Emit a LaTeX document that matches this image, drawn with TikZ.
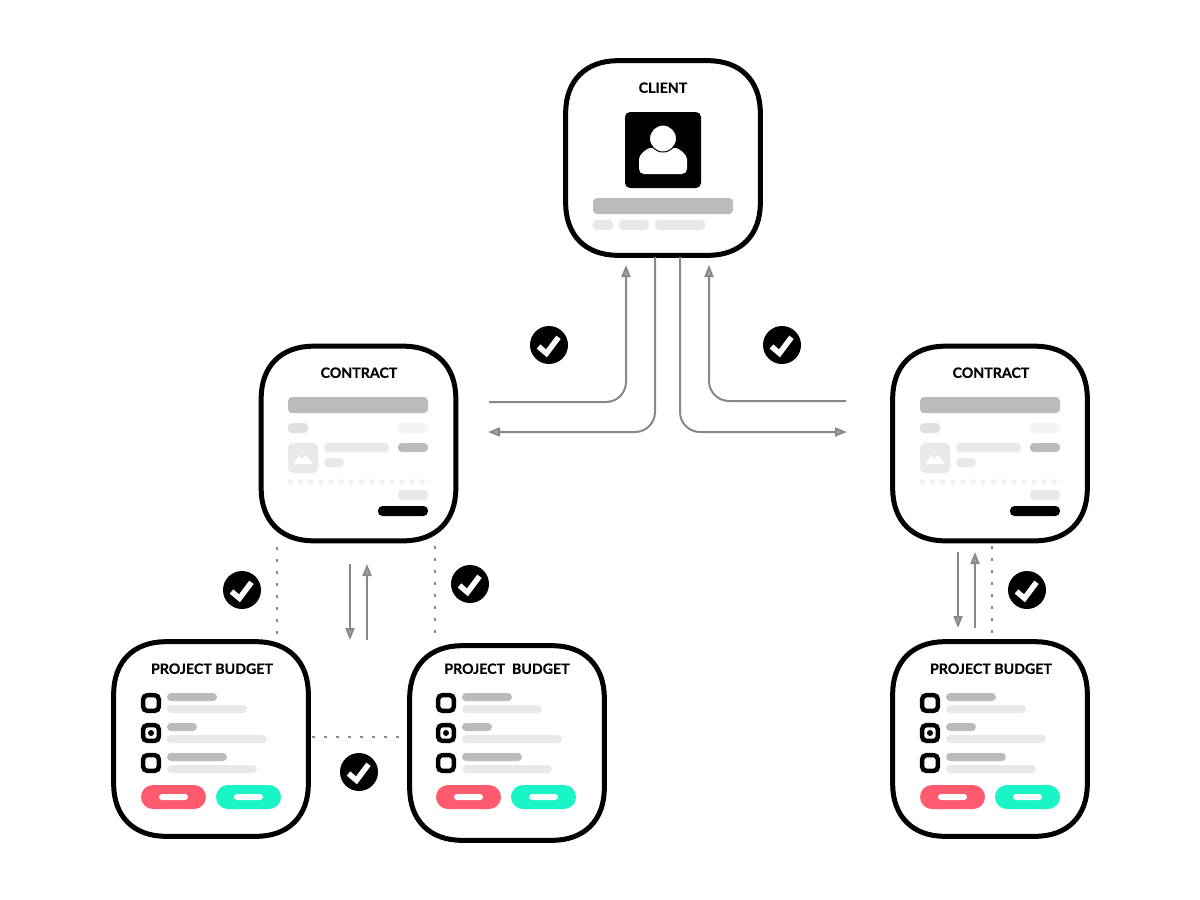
\documentclass[tikz,border=0pt]{standalone}
\usepackage{fontspec}
\setmainfont{Lato}[BoldFeatures={FakeBold=0.35}]
\usetikzlibrary{arrows.meta,calc}
\definecolor{barA}{HTML}{BBBBBB}
\definecolor{barB}{HTML}{E9E9E9}
\definecolor{barC}{HTML}{F4F4F4}
\definecolor{lineG}{HTML}{888888}
\definecolor{redB}{HTML}{FF5A6E}
\definecolor{greenB}{HTML}{1AF5C8}
\tikzset{
  cardnode/.style={rectangle,minimum width=194pt,minimum height=194pt,inner sep=0pt,outer sep=2pt},
  cardline/.style={draw=black,fill=white,line width=5pt},
  cardtitle/.style={font=\fontsize{14.2}{16}\selectfont\bfseries,inner sep=0pt,text=black},
  conn/.style={draw=lineG,line width=2pt,rounded corners=20pt},
  tipped/.style={-{Triangle[length=12pt,width=9pt,fill=lineG!75]}},
  dots/.style={draw=lineG,line width=2pt,dash pattern=on 3pt off 9pt},
  straight/.style={draw=lineG,line width=2pt},
  ticknode/.style={circle,fill=black,minimum size=38pt,inner sep=0pt},
  tickline/.style={draw=white,line width=5.5pt,miter limit=10},
}
% rounded bar: x1 y1 x2 y2 colour radius
\newcommand{\pbar}[6]{\fill[#5,rounded corners=#6pt] (#1,#2) rectangle (#3,#4);}
% card: name, centre x, centre y
\newcommand{\cardbox}[3]{%
  \node[cardnode] (#1) at (#2,#3) {};
  \begin{scope}[shift={(#1.center)}]
    \path[cardline] (-97.3,-45.3) .. controls (-97.3,-77.3) and (-77.3,-97.3) .. (-45.3,-97.3)
      -- (45.3,-97.3) .. controls (77.3,-97.3) and (97.3,-77.3) .. (97.3,-45.3)
      -- (97.3,45.3) .. controls (97.3,77.3) and (77.3,97.3) .. (45.3,97.3)
      -- (-45.3,97.3) .. controls (-77.3,97.3) and (-97.3,77.3) .. (-97.3,45.3) -- cycle;
  \end{scope}}
\newcommand{\ticknode}[3]{%
  \node[ticknode] (#1) at (#2,#3) {};
  \begin{scope}[shift={(#1.center)}]
    \draw[tickline] (-10.5,1.5) -- (-2.5,8.3) -- (9.5,-7.7);
  \end{scope}}
\newcommand{\contractbody}{%
  \pbar{288}{397}{428}{413}{barA}{4}
  \pbar{288}{423}{308}{433}{barB!80!barA}{4}
  \pbar{398}{423}{428}{433}{barC}{4}
  \pbar{288}{443}{318}{473}{barB}{5}
  \fill[white] (293,464) -- (299,456) -- (302,459) -- (306,455) -- (313,464) -- cycle;
  \fill[white] (302,453) circle (1.2);
  \pbar{324}{443}{389}{452}{barB}{4}
  \pbar{324}{458}{344}{467}{barB}{4}
  \pbar{398}{443}{428}{452}{barA}{4}
  \foreach \i in {0,...,13}{\fill[barC!70!barB] (290.5+\i*10.15,482) circle (2.7);}
  \pbar{398}{490}{428}{500}{barB}{4}
  \pbar{378}{506}{428}{516}{black}{4.5}
}
\newcommand{\budgetbody}{%
  \foreach \yy in {703,733,763}{\draw[line width=4.5pt,rounded corners=4pt] (143.2,\yy-7.8) rectangle (158.8,\yy+7.8);}
  \fill[black] (151,733) circle (3);
  \pbar{167}{693}{217}{701}{barA}{4}
  \pbar{167}{705}{247}{713}{barB}{4}
  \pbar{167}{723}{197}{731}{barA}{4}
  \pbar{167}{735}{267}{743}{barB}{4}
  \pbar{167}{753}{227}{761}{barA}{4}
  \pbar{167}{765}{257}{773}{barB}{4}
  \pbar{141}{785}{206}{809}{redB}{12}
  \pbar{216}{785}{281}{809}{greenB}{12}
  \pbar{159}{794}{188}{800}{white}{3}
  \pbar{234}{794}{263}{800}{white}{3}
}
\begin{document}
\begin{tikzpicture}[x=1pt,y=-1pt]
\useasboundingbox (0,0) rectangle (1200,900);
\fill[white] (0,0) rectangle (1200,900);

% cards
\cardbox{client}{663}{158}
\cardbox{contractL}{358.5}{443.5}
\cardbox{contractR}{990}{443.5}
\cardbox{budgetA}{211}{739}
\cardbox{budgetB}{507}{743}
\cardbox{budgetC}{990}{739}

% titles
\node[cardtitle] (tClient) at (663,87.7) {CLIENT};
\node[cardtitle] (tContractL) at (359,372.7) {CONTRACT};
\node[cardtitle] (tContractR) at (991,372.7) {CONTRACT};
\node[cardtitle] (tBudgetA) at (212,668.7) {PROJECT BUDGET};
\node[cardtitle] (tBudgetB) at (507,668.7) {PROJECT\ \ BUDGET};
\node[cardtitle] (tBudgetC) at (991,668.7) {PROJECT BUDGET};

% client content
\pbar{625}{112}{701}{188}{black}{5}
\fill[white,rounded corners=5pt] (639,174) -- (639,164)
  .. controls (639,154) and (648,148) .. (655,148) -- (671,148)
  .. controls (678,148) and (687,154) .. (687,164) -- (687,174) -- cycle;
\draw[black,fill=white,line width=1pt] (663,138.5) circle (13.5);
\pbar{593}{198}{733}{214}{barA}{4}
\pbar{593}{220}{613}{230}{barB}{4}
\pbar{619}{220}{649}{230}{barB}{4}
\pbar{655}{220}{705}{230}{barB}{4}

% contract content
\contractbody
\begin{scope}[shift={(632,0)}]\contractbody\end{scope}

% budget content
\budgetbody
\begin{scope}[shift={(295,0)}]\budgetbody\end{scope}
\begin{scope}[shift={(779,0)}]\budgetbody\end{scope}

% free connector ends
\coordinate (a1) at (489,402);
\coordinate (a2) at (626,265);
\coordinate (b1) at (655,257);
\coordinate (b2) at (488,432);
\coordinate (c1) at (680,257);
\coordinate (c2) at (847,432);
\coordinate (d1) at (846,401);
\coordinate (d2) at (709,265);
\coordinate (e1) at (277,547);
\coordinate (e2) at (277,636);
\coordinate (f1) at (435,546);
\coordinate (f2) at (435,636);
\coordinate (g1) at (350,564);
\coordinate (g2) at (350,640);
\coordinate (h1) at (367,640);
\coordinate (h2) at (367,564);
\coordinate (i1) at (958,552);
\coordinate (i2) at (958,628);
\coordinate (j1) at (975,628);
\coordinate (j2) at (975,552);
\coordinate (k1) at (992,546);
\coordinate (k2) at (992,636);
\coordinate (l1) at (312,737);
\coordinate (l2) at (402,737);

% connectors
\draw[conn,tipped] (a1) -| (a2);
\draw[conn,tipped] (b1) |- (b2);
\draw[conn,tipped] (c1) |- (c2);
\draw[conn,tipped] (d1) -| (d2);
\draw[dots] (e1) -- (e2);
\draw[dots] (f1) -- (f2);
\draw[straight,tipped] (g1) -- (g2);
\draw[straight,tipped] (h1) -- (h2);
\draw[straight,tipped] (i1) -- (i2);
\draw[straight,tipped] (j1) -- (j2);
\draw[dots] (k1) -- (k2);
\draw[dots] (l1) -- (l2);

% ticks
\ticknode{t1}{549}{345}
\ticknode{t2}{782}{345}
\ticknode{t3}{242}{590}
\ticknode{t4}{470}{584}
\ticknode{t5}{1027}{590}
\ticknode{t6}{359}{772}
\end{tikzpicture}
\end{document}
